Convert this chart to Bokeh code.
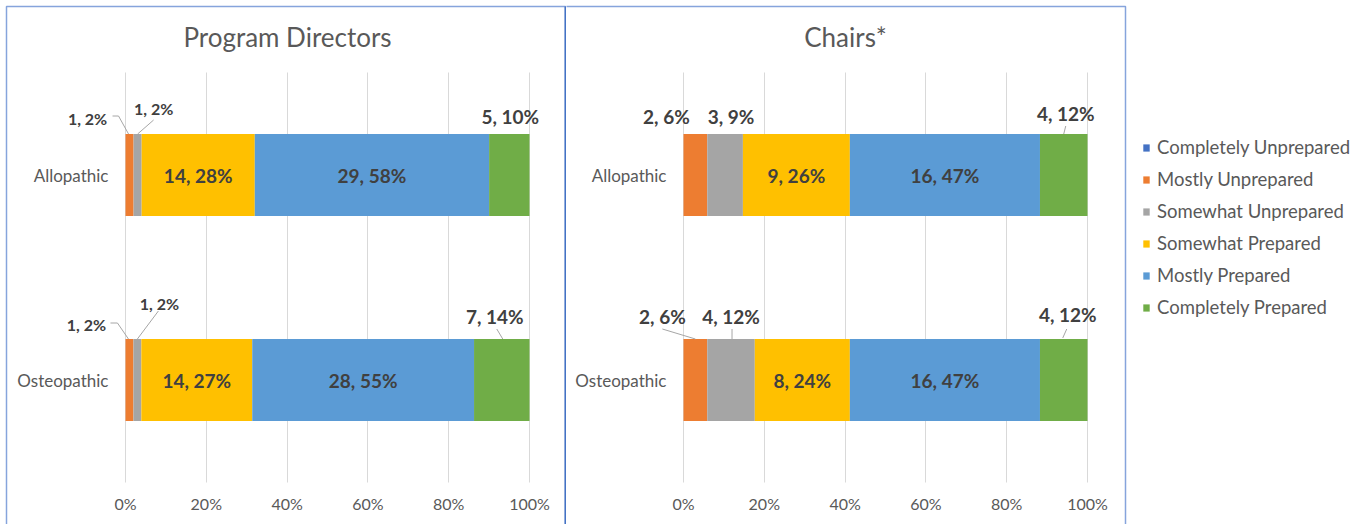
from bokeh.plotting import figure
from bokeh.layouts import row
from bokeh.models import (ColumnDataSource, Range1d, FixedTicker, LinearAxis, Grid,
                          NumeralTickFormatter, BoxAnnotation, Label)
from bokeh.core.properties import value
from bokeh.embed import file_html
from bokeh.resources import INLINE

# ---------------- data ----------------
levels = ["Completely Unprepared", "Mostly Unprepared", "Somewhat Unprepared",
          "Somewhat Prepared", "Mostly Prepared", "Completely Prepared"]
colors = ["#4472C4", "#ED7D31", "#A5A5A5", "#FFC000", "#5B9BD5", "#70AD47"]
schools = ["Allopathic", "Osteopathic"]
panel_titles = ["Program Directors", "Chairs*"]
pd_allopathic = [0, 1, 1, 14, 29, 5]
pd_osteopathic = [0, 1, 1, 14, 28, 7]
chairs_allopathic = [0, 2, 3, 9, 16, 4]
chairs_osteopathic = [0, 2, 4, 8, 16, 4]
x_ticks = [0, 0.2, 0.4, 0.6, 0.8, 1.0]

panels = [
    (panel_titles[0], {"Allopathic": pd_allopathic, "Osteopathic": pd_osteopathic}),
    (panel_titles[1], {"Allopathic": chairs_allopathic, "Osteopathic": chairs_osteopathic}),
]

# ---------------- styling / placement ----------------
FONT = "Lato"
AXIS_GREY = "#595959"
LABEL_DARK = "#404040"
H = 524
PLOT_W = 404.0    # px for 0..100 %
BAND_H = 205.0    # px per category band
PLOT_TOP, PLOT_BOTTOM = 72, 482
BAR_H = 0.4
INSIDE = {3, 4}   # levels labelled inside the bar
# category centres on the vertical scale (first category on top)
y_pos = {s: len(schools) - 0.5 - i for i, s in enumerate(schools)}

# outside-label placement: (panel, school, level) -> (dx px, rise px above bar top,
#   leader points as (dx px, rise px), font size)
place = {
    (0, "Allopathic", 1): (-42, 16, [(-17, 18), (-11, 18), (-1, 0)], "16px"),
    (0, "Allopathic", 2): (16, 26, [(16, 14), (0, 0)], "16px"),
    (0, "Allopathic", 5): (1, 18, [], "19px"),
    (0, "Osteopathic", 1): (-43, 15, [(-19, 16), (-12, 16), (-1, 0)], "16px"),
    (0, "Osteopathic", 2): (22, 36, [(21, 28), (0, 0)], "16px"),
    (0, "Osteopathic", 5): (-7, 23, [(-5, 10), (1, 0)], "19px"),
    (1, "Allopathic", 1): (-29, 18, [], "19px"),
    (1, "Allopathic", 2): (6, 18, [], "19px"),
    (1, "Allopathic", 5): (2, 21, [(2, 8), (0, 0)], "19px"),
    (1, "Osteopathic", 1): (-33, 23, [(-33, 10), (0, 0)], "19px"),
    (1, "Osteopathic", 2): (0, 23, [(1, 10), (1, 0)], "19px"),
    (1, "Osteopathic", 5): (4, 25, [(3, 10), (-1, 1)], "19px"),
}

# panel geometry (canvas px)
geom = [
    dict(width=566, plot_left=125, title_x=287, box=(6, 565), divider=565),
    dict(width=803, plot_left=117, title_x=279, box=(-10, 559), divider=None),
]


def make_panel(idx, title, data, show_legend):
    g = geom[idx]
    W = g["width"]
    x0 = g["plot_left"]
    xpx = lambda px: (px - x0) / PLOT_W                 # canvas px -> x value
    ypx = lambda py: (PLOT_BOTTOM - py) / BAND_H         # canvas px -> y value
    p = figure(width=W, height=H, output_backend="svg", toolbar_location=None,
               x_range=Range1d(xpx(0), xpx(W)), y_range=Range1d(ypx(H), ypx(0)),
               x_axis_location=None, y_axis_location=None, title_location=None,
               min_border=0, background_fill_color="white", border_fill_color="white")
    p.outline_line_color = None
    p.grid.visible = False

    # panel border
    bl, br = g["box"]
    p.add_layout(BoxAnnotation(left=xpx(bl), right=xpx(br), top=ypx(6), bottom=ypx(H + 40),
                               fill_alpha=0, line_color="#86A4DC", line_alpha=1,
                               line_width=1.5, level="underlay"))
    if g["divider"] is not None:
        d = g["divider"]
        p.add_layout(BoxAnnotation(left=xpx(d), right=xpx(d), top=ypx(6), bottom=ypx(H + 40),
                                   fill_alpha=0, line_color="#4472C4", line_alpha=1,
                                   line_width=2, level="underlay"))

    # gridlines
    grid = Grid(dimension=0, ticker=FixedTicker(ticks=x_ticks), grid_line_color="#D9D9D9",
                grid_line_width=1)
    try:
        grid.cross_bounds = (0, len(schools))
        p.add_layout(grid)
    except Exception:
        p.segment(x0=x_ticks, x1=x_ticks, y0=[0] * len(x_ticks),
                  y1=[len(schools)] * len(x_ticks), line_color="#D9D9D9", line_width=1)

    # title
    p.add_layout(Label(x=xpx(g["title_x"]), y=ypx(36), text=title, text_align="center",
                       text_baseline="middle", text_font=FONT, text_font_size="26px",
                       text_color=AXIS_GREY))

    # stacked bars from fractions
    src = {"school": schools, "ypos": [y_pos[s] for s in schools]}
    for li, lev in enumerate(levels):
        src[lev] = [data[s][li] / sum(data[s]) for s in schools]
    source = ColumnDataSource(src)
    kw = dict(legend_label=levels) if show_legend else {}
    p.hbar_stack(levels, y="ypos", height=BAR_H, color=colors, source=source,
                 line_width=0, **kw)

    # data labels
    in_x, in_y, in_t = [], [], []
    for s in schools:
        vals = data[s]
        tot = sum(vals)
        top = y_pos[s] + BAR_H / 2
        cum = 0.0
        for li, v in enumerate(vals):
            frac = v / tot
            mid = cum + frac / 2
            cum += frac
            if v == 0:
                continue
            txt = f"{v}, {round(100 * v / tot)}%"
            if li in INSIDE:
                in_x.append(mid); in_y.append(y_pos[s]); in_t.append(txt)
            else:
                dx, rise, leader, fs = place[(idx, s, li)]
                p.text(x=[mid + dx / PLOT_W], y=[top + rise / BAND_H], text=[txt],
                       text_align="center", text_baseline="middle",
                       text_font=value(FONT), text_font_style="bold",
                       text_font_size=fs, text_color=LABEL_DARK)
                if leader:
                    p.line(x=[mid + a / PLOT_W for a, _ in leader],
                           y=[top + b / BAND_H for _, b in leader],
                           line_color="#A6A6A6", line_width=1)
    p.text(x=in_x, y=in_y, text=in_t, text_align="center", text_baseline="middle",
           text_font=value(FONT), text_font_style="bold", text_font_size="19px",
           text_color=LABEL_DARK)

    # axes drawn at the plot-area edges
    xaxis = LinearAxis(fixed_location=0, ticker=FixedTicker(ticks=x_ticks),
                       formatter=NumeralTickFormatter(format="0%"))
    yaxis = LinearAxis(fixed_location=0, ticker=FixedTicker(ticks=[y_pos[s] for s in schools]),
                       major_label_overrides={y_pos[s]: s for s in schools})
    for ax in (xaxis, yaxis):
        ax.axis_line_color = None
        ax.major_tick_line_color = None
        ax.minor_tick_line_color = None
        ax.major_label_text_font = FONT
        ax.major_label_text_color = AXIS_GREY
    xaxis.major_label_text_font_size = "16px"
    yaxis.major_label_text_font_size = "17px"
    xaxis.major_label_standoff = 5
    yaxis.major_label_standoff = 11
    p.add_layout(xaxis, "below")
    p.add_layout(yaxis, "left")

    if show_legend:
        leg = p.legend[0]
        leg.location = (1142 - 566, H - (131 + 6 * 32))
        leg.margin = 0
        leg.padding = 0
        leg.spacing = 0
        leg.glyph_width = 8
        leg.glyph_height = 9
        leg.label_height = 32
        leg.label_standoff = 7
        leg.label_text_font = FONT
        leg.label_text_font_size = "18.5px"
        leg.label_text_color = AXIS_GREY
        leg.border_line_color = None
        leg.background_fill_alpha = 0
    return p


p1 = make_panel(0, *panels[0], show_legend=False)
p2 = make_panel(1, *panels[1], show_legend=True)
p = row(p1, p2, spacing=0)

open("out.html", "w").write(file_html(p, INLINE))
